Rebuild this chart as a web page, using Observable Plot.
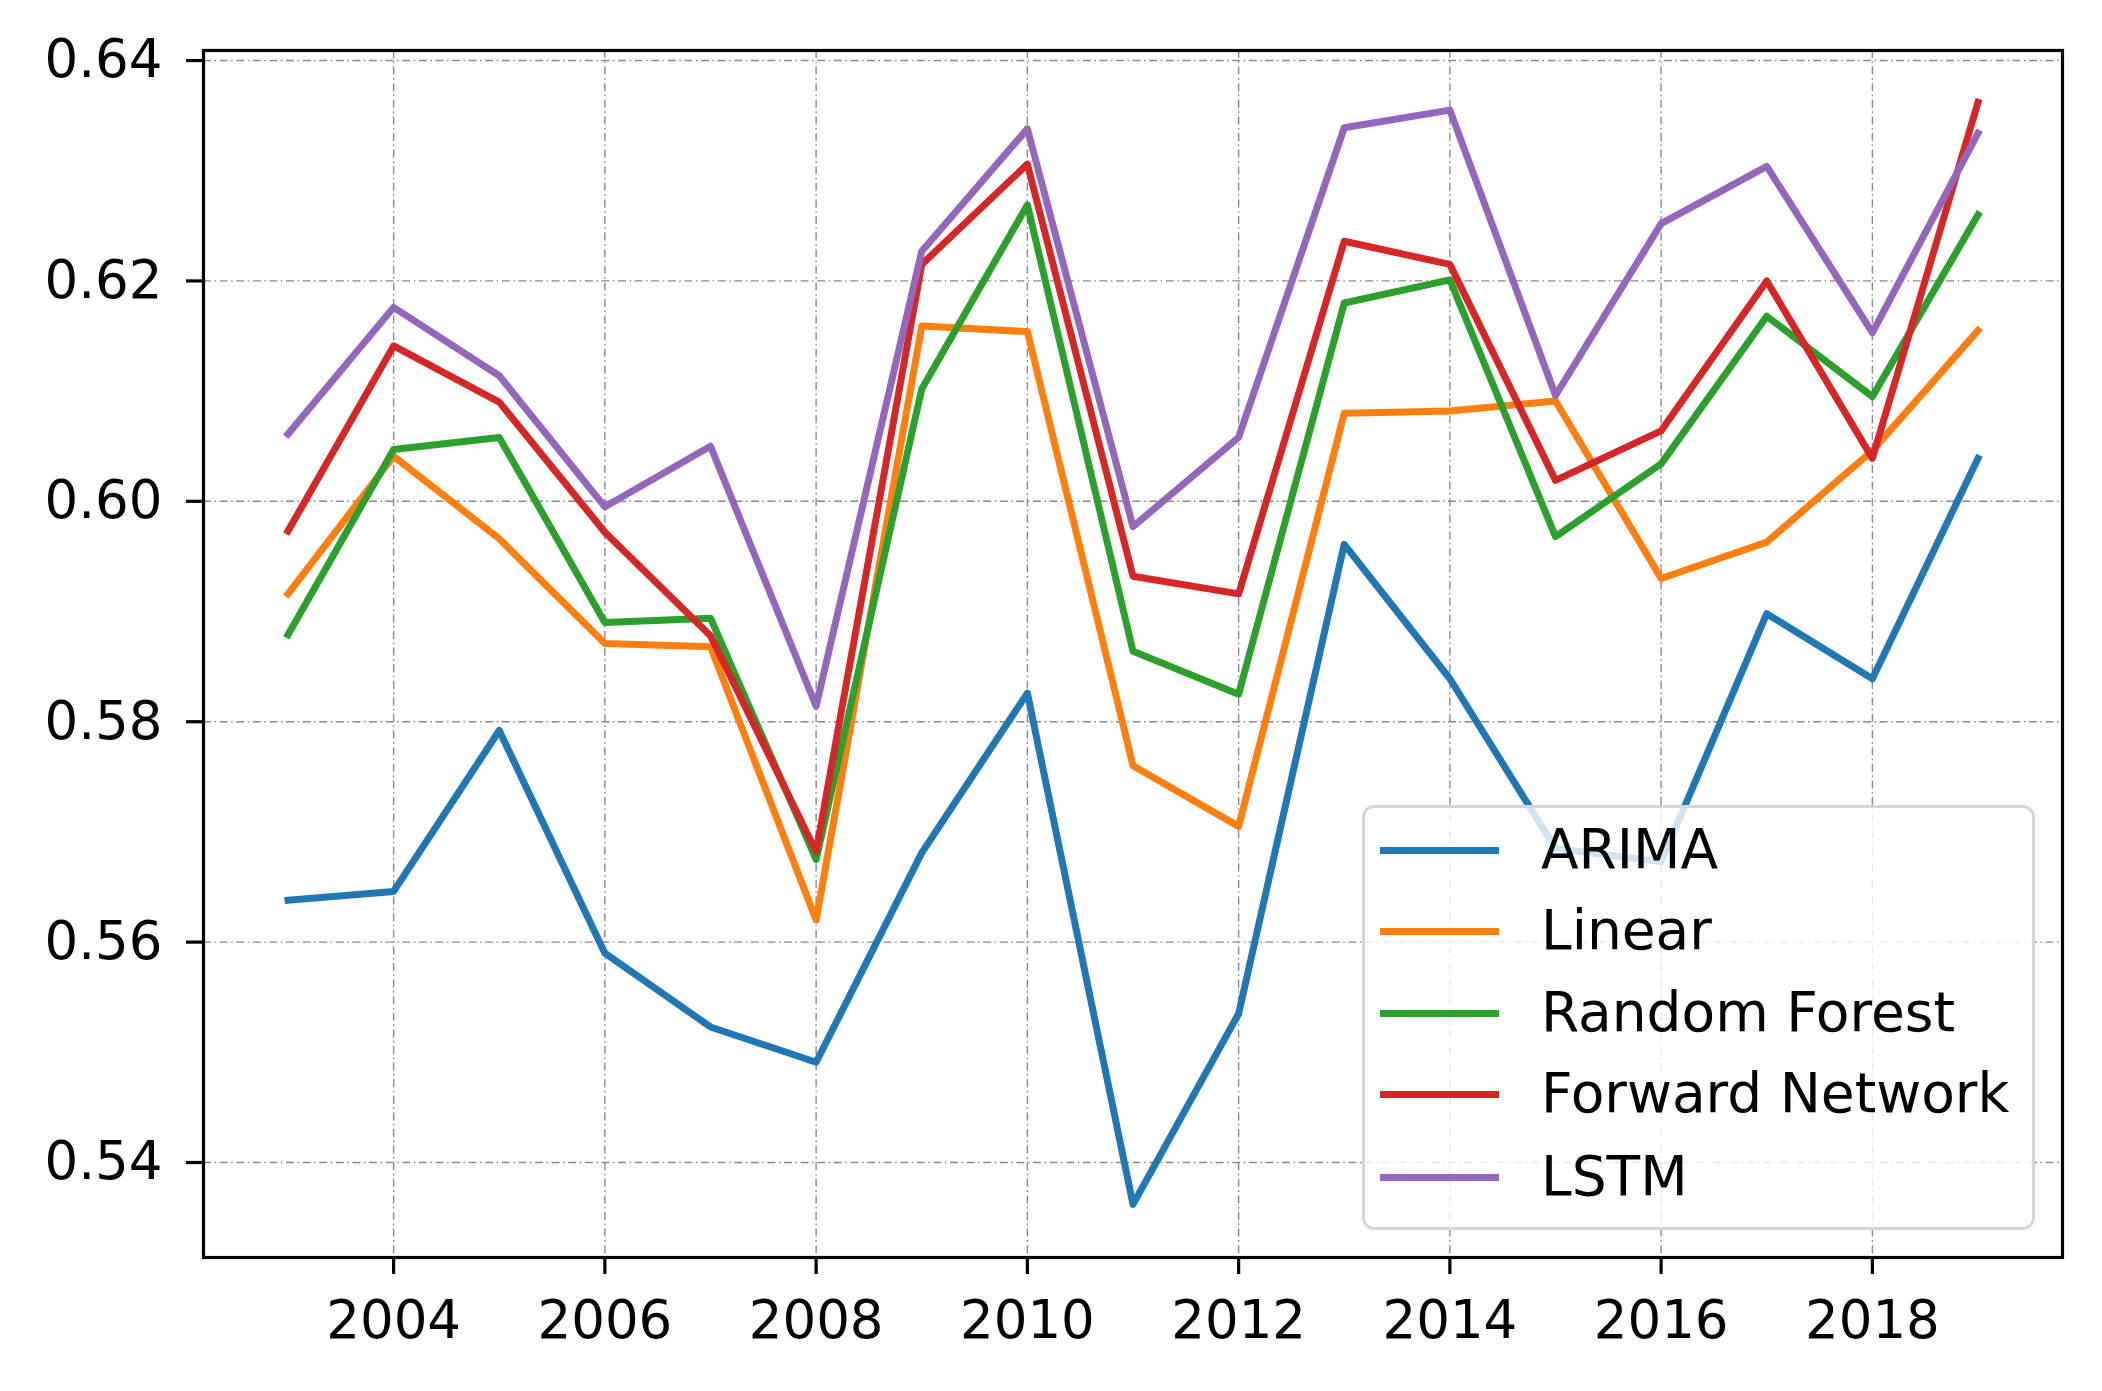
<!DOCTYPE html>
<html>
<head>
<meta charset="utf-8">
<script src="https://cdn.jsdelivr.net/npm/d3@7"></script>
<script src="https://cdn.jsdelivr.net/npm/@observablehq/plot@0.6"></script>
<style>
  html, body { margin: 0; padding: 0; background: #fff; }
  #wrap { position: relative; width: 2102px; height: 1391px; font-family: "DejaVu Sans", sans-serif; }
  #legend {
    position: absolute; left: 1362px; top: 805px; width: 667px; height: 419px;
    border: 3px solid #d6d6d6; border-radius: 12px; background: rgba(255,255,255,0.8);
  }
  .row { position: absolute; left: 0; height: 0; }
  .sw { position: absolute; left: 15px; width: 119px; height: 7px; top: -3.5px; }
  .lb { position: absolute; left: 176px; top: -32px; font-size: 55px; line-height: 62px; white-space: nowrap; color: #000; }
</style>
</head>
<body>
<div id="wrap"></div>
<script>
const years = [2003,2004,2005,2006,2007,2008,2009,2010,2011,2012,2013,2014,2015,2016,2017,2018,2019];
const seriesNames = ["ARIMA", "Linear", "Random Forest", "Forward Network", "LSTM"];
const seriesColors = ["#1f77b4", "#ff7f0e", "#2ca02c", "#d62728", "#9467bd"];
const arima  = [0.5638,0.5646,0.5792,0.5590,0.5523,0.5491,0.5681,0.5826,0.5362,0.5535,0.5961,0.5839,0.5685,0.5673,0.5898,0.5839,0.6039];
const linear = [0.5916,0.6041,0.5966,0.5871,0.5868,0.5620,0.6159,0.6154,0.5760,0.5705,0.6080,0.6082,0.6091,0.5930,0.5963,0.6046,0.6155];
const randomForest = [0.5879,0.6047,0.6058,0.5890,0.5894,0.5675,0.6102,0.6269,0.5864,0.5825,0.6180,0.6201,0.5968,0.6034,0.6168,0.6095,0.6260];
const forwardNet = [0.5973,0.6141,0.6090,0.5972,0.5878,0.5682,0.6215,0.6306,0.5932,0.5916,0.6236,0.6215,0.6019,0.6064,0.6200,0.6039,0.6362];
const lstm   = [0.6061,0.6176,0.6114,0.5995,0.6050,0.5814,0.6227,0.6338,0.5977,0.6058,0.6339,0.6355,0.6096,0.6252,0.6304,0.6153,0.6334];
const yTicks = [0.54, 0.56, 0.58, 0.60, 0.62, 0.64];
const xTicks = [2004, 2006, 2008, 2010, 2012, 2014, 2016, 2018];

const allSeries = [arima, linear, randomForest, forwardNet, lstm];
const rows = [];
allSeries.forEach((vals, i) => vals.forEach((v, j) => rows.push({series: seriesNames[i], year: years[j], value: v})));

const gridStyle = { stroke: "#8a8a8a", strokeOpacity: 1, strokeWidth: 1.4, strokeDasharray: "8,3.5,1.6,3.5" };

const chart = Plot.plot({
  width: 2102,
  height: 1391,
  marginLeft: 203,
  marginRight: 40,
  marginTop: 50,
  marginBottom: 134,
  style: { fontFamily: "DejaVu Sans, sans-serif", fontSize: "53px", color: "#000", background: "#fff" },
  x: { domain: [2002.2, 2019.8] },
  y: { domain: [0.53138, 0.64091] },
  color: { domain: seriesNames, range: seriesColors },
  marks: [
    Plot.gridX(xTicks, gridStyle),
    Plot.gridY(yTicks, gridStyle),
    Plot.line(rows, { x: "year", y: "value", z: "series", stroke: "series", strokeWidth: 7, strokeLinejoin: "round", strokeLinecap: "square" }),
    Plot.frame({ stroke: "#000", strokeWidth: 3.2 }),
    Plot.axisY(yTicks, { tickFormat: d3.format(".2f"), tickSize: 17, tickPadding: 24, strokeWidth: 3.2, label: null, fill: "#000" }),
    Plot.axisX(xTicks, { tickFormat: d => String(d), tickSize: 17, tickPadding: 26, strokeWidth: 3.2, label: null, fill: "#000" })
  ]
});

const wrap = document.getElementById("wrap");
wrap.appendChild(chart);

const legend = document.createElement("div");
legend.id = "legend";
const rowTops = [42, 123, 205, 286, 369];
seriesNames.forEach((name, i) => {
  const r = document.createElement("div");
  r.className = "row";
  r.style.top = rowTops[i] + "px";
  const sw = document.createElement("div");
  sw.className = "sw";
  sw.style.background = seriesColors[i];
  const lb = document.createElement("div");
  lb.className = "lb";
  lb.textContent = name;
  r.appendChild(sw); r.appendChild(lb);
  legend.appendChild(r);
});
wrap.appendChild(legend);
</script>
</body>
</html>
